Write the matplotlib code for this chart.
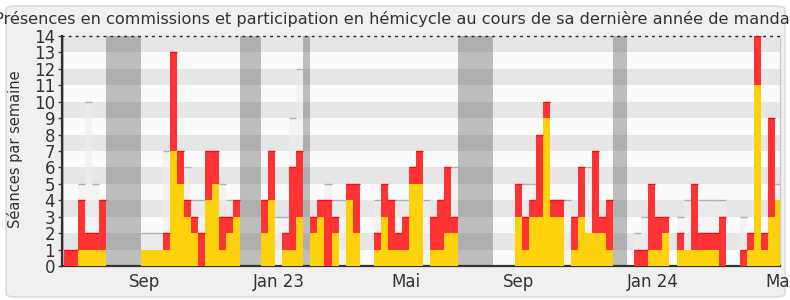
import matplotlib
matplotlib.use('Agg')
import matplotlib.pyplot as plt
from matplotlib.patches import FancyBboxPatch
import numpy as np

# ---- data (one value per week) ----
total = [1, 1, 4, 2, 2, 4, 0, 0, 0, 0,
         0, 1, 1, 1, 2, 13, 7, 4, 3, 2,
         7, 7, 3, 3, 4, 0, 0, 0, 4, 7,
         0, 2, 6, 7, 0, 3, 4, 4, 3, 0,
         5, 5, 0, 0, 2, 5, 4, 2, 3, 6,
         7, 0, 3, 4, 6, 3, 0, 0, 0, 0,
         0, 0, 0, 0, 5, 3, 4, 8, 10, 4,
         4, 0, 3, 6, 2, 7, 3, 4, 0, 0,
         0, 1, 1, 5, 3, 3, 0, 2, 1, 5,
         2, 2, 2, 3, 0, 0, 1, 2, 14, 2,
         9, 4]
hemicycle = [0, 0, 1, 1, 1, 1, 0, 0, 0, 0,
             0, 1, 1, 1, 1, 7, 5, 3, 2, 0,
             4, 5, 1, 2, 3, 0, 0, 0, 2, 4,
             0, 1, 1, 3, 0, 2, 3, 0, 2, 0,
             4, 2, 0, 0, 1, 3, 1, 1, 1, 5,
             5, 0, 1, 1, 2, 2, 0, 0, 0, 0,
             0, 0, 0, 0, 3, 1, 3, 3, 9, 3,
             3, 0, 1, 3, 2, 2, 2, 1, 0, 0,
             0, 0, 0, 1, 1, 2, 0, 1, 1, 1,
             1, 1, 1, 0, 0, 0, 0, 1, 11, 1,
             3, 4]
median = [0, 0, 5, 10, 5, 0, 0, 0, 0, 0,
          0, 2, 2, 2, 7, 0, 0, 6, 4, 4,
          0, 0, 5, 4, 0, 0, 0, 0, 0, 0,
          3, 3, 9, 12, 0, 0, 0, 5, 4, 4,
          0, 0, 0, 0, 4, 0, 0, 4, 4, 0,
          0, 4, 0, 0, 0, 6, 0, 0, 0, 0,
          0, 0, 0, 0, 0, 5, 5, 0, 0, 4,
          4, 4, 0, 0, 6, 0, 0, 0, 0, 0,
          0, 2, 3, 0, 0, 0, 0, 3, 4, 0,
          4, 4, 4, 4, 0, 0, 3, 0, 0, 0,
          5, 5]
vacances = [(-1, 0), (6, 11), (25, 28), (34, 35), (56, 61), (78, 80)]
tick_pos = [11.5, 30.5, 48.5, 64.6, 83.6, 101.7]
tick_labels = ['Sep', 'Jan 23', 'Mai', 'Sep', 'Jan 24', 'Mai']
title = "Présences en commissions et participation en hémicycle au cours de sa dernière année de mandat"
ylabel = "Séances par semaine"

x = np.arange(len(total))
tot = np.array(total, dtype=float)
yel = np.array(hemicycle, dtype=float)
med = np.array(median, dtype=float)
red = tot - yel

fig = plt.figure(figsize=(7.9, 3.0), dpi=100)
fig.patch.set_facecolor('white')
bg = FancyBboxPatch((6 / 790, 3 / 300), (785 - 6) / 790, (294 - 3) / 300,
                    boxstyle='round,pad=0,rounding_size=0.012',
                    transform=fig.transFigure, facecolor='#f0f0f0',
                    edgecolor='#dcdcdc', lw=1.2, zorder=-10)
fig.patches.append(bg)

ax = fig.add_axes([62 / 790, 34 / 300, (780 - 62) / 790, 230 / 300])
ax.set_zorder(5)
ax.set_xlim(-0.28, 101.7)
ax.set_ylim(0, 14)

for k in range(14):
    ax.axhspan(k, k + 1, color='#e6e6e6' if k % 2 else '#fafafa', lw=0, zorder=0)

for a, b in vacances:
    ax.axvspan(a, b, color='#323232', alpha=0.3, lw=0, zorder=1)

ax.bar(x + 0.5, med, width=1, color='#eeeeee', alpha=0.55, lw=0, zorder=2)
m = med > 0
ax.hlines(med[m], x[m], x[m] + 1, color='#b0b0b0', lw=1, zorder=2)

ax.bar(x + 0.5, yel, width=1, color='#fdd10b', lw=0, zorder=3)
ax.bar(x + 0.5, red, bottom=yel, width=1, color='#ff3333', lw=0, zorder=3)
r = red > 0
ax.hlines(tot[r], x[r], x[r] + 1, color='#f01010', lw=1, zorder=4)

for s in ['left', 'bottom']:
    ax.spines[s].set_color('#333333')
    ax.spines[s].set_linewidth(1.6)
ax.spines['top'].set_linestyle((0, (1, 4)))
ax.spines['top'].set_color('#222222')
ax.spines['top'].set_linewidth(1)
ax.spines['right'].set_color('#c8c8c8')
ax.spines['right'].set_linewidth(1)

ax.set_yticks(range(15))
ax.tick_params(axis='y', direction='out', length=3, width=1, color='#444444',
               labelsize=12, labelcolor='#333333', pad=2)
ax.set_xticks(tick_pos)
ax.set_xticklabels(tick_labels)
ax.tick_params(axis='x', length=0, labelsize=12, labelcolor='#333333', pad=5)

fig.text(0.5, 0.937, title, ha='center', va='center', fontsize=11.65, color='#333333')
fig.text(0.019, 0.503, ylabel, rotation=90, ha='center', va='center',
         fontsize=10.5, color='#333333')

fig.savefig('out.png', dpi=100, facecolor=fig.get_facecolor())
